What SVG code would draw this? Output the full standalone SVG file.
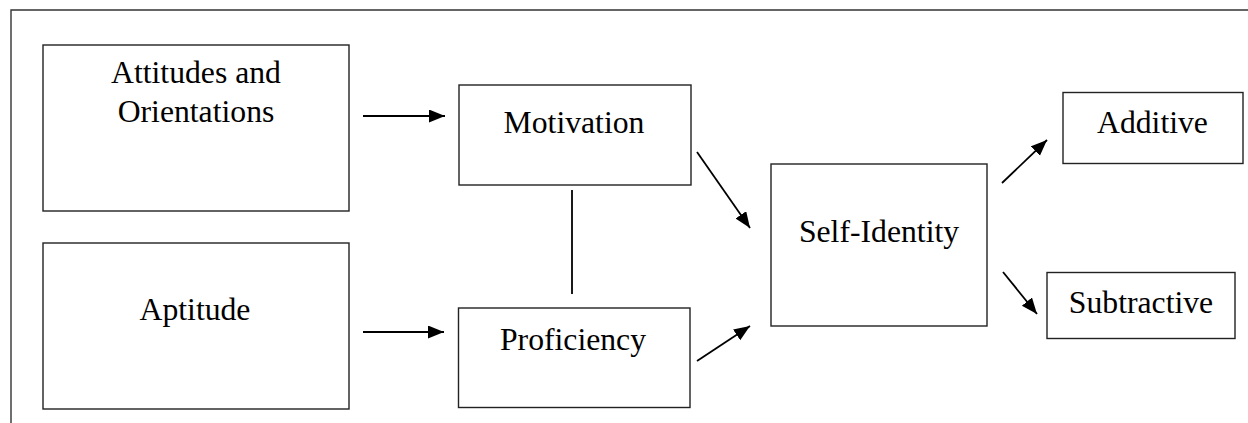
<svg xmlns="http://www.w3.org/2000/svg" width="1248" height="423" viewBox="0 0 1248 423">
<defs>
<style>
.box{fill:#fff;stroke:#222;stroke-width:1.4}
.lbl{font-family:"Liberation Serif","Times New Roman",serif;font-size:31.7px;fill:#000;text-anchor:middle}
.con{stroke:#000;stroke-width:1.8;fill:none}
</style>
<marker id="ah" markerUnits="userSpaceOnUse" markerWidth="18" markerHeight="14" refX="16" refY="6.5" orient="auto">
<path d="M0,0 L16,6.5 L0,13 Z" fill="#000"/>
</marker>
</defs>
<rect width="1248" height="423" fill="#fff"/>
<path d="M11,423 L11,10 L1248,10" fill="none" stroke="#333" stroke-width="1.4"/>
<g id="attitudes"><rect class="box" x="43" y="45" width="306" height="166"/><text class="lbl" x="196" y="83">Attitudes and</text><text class="lbl" x="196" y="121.5">Orientations</text></g>
<g id="aptitude"><rect class="box" x="43" y="243" width="306" height="166"/><text class="lbl" x="195" y="320">Aptitude</text></g>
<g id="motivation"><rect class="box" x="459" y="85" width="232" height="100"/><text class="lbl" x="574" y="133">Motivation</text></g>
<g id="proficiency"><rect class="box" x="458.5" y="308" width="231.5" height="99.5"/><text class="lbl" x="573" y="350">Proficiency</text></g>
<g id="selfidentity"><rect class="box" x="771" y="164" width="216" height="162"/><text class="lbl" x="879" y="241.7">Self-Identity</text></g>
<g id="additive"><rect class="box" x="1063" y="92.5" width="180" height="71"/><text class="lbl" x="1152.5" y="133.3">Additive</text></g>
<g id="subtractive"><rect class="box" x="1047" y="272.5" width="188" height="66"/><text class="lbl" x="1141" y="312.7">Subtractive</text></g>
<g id="connectors">
<line class="con" x1="363" y1="116" x2="445" y2="116" marker-end="url(#ah)"/>
<line class="con" x1="363" y1="332" x2="444" y2="332" marker-end="url(#ah)"/>
<line class="con" x1="572" y1="190" x2="572" y2="294"/>
<line class="con" x1="697" y1="152" x2="750" y2="228" marker-end="url(#ah)"/>
<line class="con" x1="697" y1="361" x2="750" y2="326" marker-end="url(#ah)"/>
<line class="con" x1="1002" y1="183" x2="1047" y2="140" marker-end="url(#ah)"/>
<line class="con" x1="1003" y1="272" x2="1037" y2="314" marker-end="url(#ah)"/>
</g>
</svg>
